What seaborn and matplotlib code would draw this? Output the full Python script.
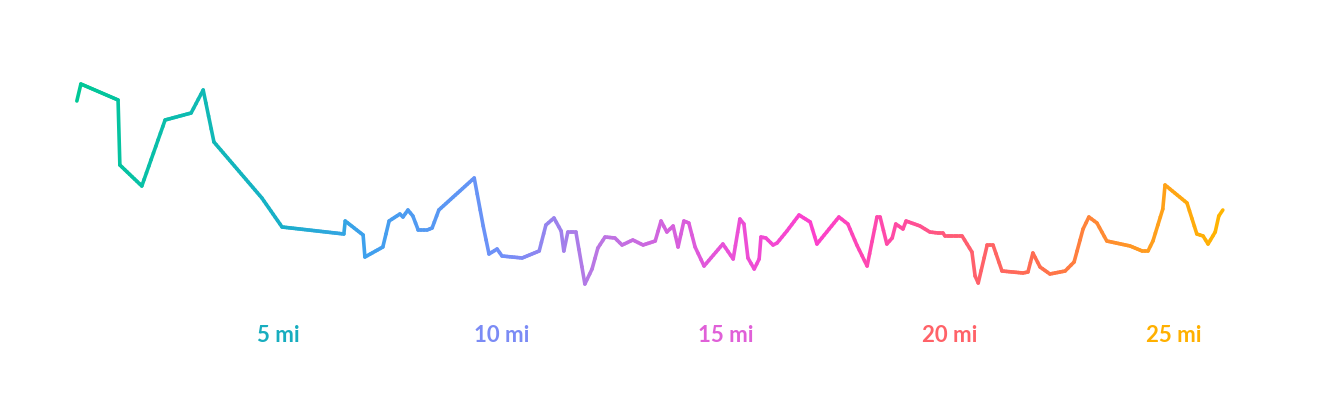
import numpy as np
import matplotlib
matplotlib.use("Agg")
import matplotlib.pyplot as plt
import seaborn as sns
from matplotlib.collections import LineCollection
from matplotlib.colors import LinearSegmentedColormap, to_rgb

# ---- data ----
miles = [0.51, 0.60, 1.43, 1.47, 1.96, 2.48, 3.06, 3.33, 3.57, 4.64,
         5.09, 6.47, 6.50, 6.90, 6.94, 7.34, 7.48, 7.72, 7.79, 7.90,
         8.01, 8.13, 8.33, 8.44, 8.59, 9.38, 9.58, 9.71, 9.89, 10.00,
         10.45, 10.83, 10.98, 11.16, 11.32, 11.38, 11.47, 11.65, 11.85, 12.01,
         12.14, 12.30, 12.52, 12.68, 12.92, 13.15, 13.42, 13.55, 13.68, 13.82,
         13.93, 14.06, 14.17, 14.31, 14.51, 14.93, 15.16, 15.31, 15.40, 15.49,
         15.63, 15.74, 15.78, 15.89, 16.05, 16.14, 16.36, 16.63, 16.88, 17.03,
         17.52, 17.72, 17.92, 18.15, 18.37, 18.44, 18.59, 18.71, 18.79, 18.95,
         19.02, 19.33, 19.55, 19.73, 19.84, 19.89, 20.27, 20.49, 20.56, 20.63,
         20.83, 20.96, 21.16, 21.63, 21.74, 21.85, 22.01, 22.23, 22.57, 22.77,
         22.97, 23.10, 23.28, 23.50, 24.02, 24.29, 24.42, 24.53, 24.75, 24.80,
         25.29, 25.51, 25.65, 25.76, 25.92, 26.00, 26.09]
elevation = [298, 315, 299, 234, 213, 279, 286, 309, 257, 201,
             172, 165, 178, 164, 142, 152, 178, 185, 182, 189,
             183, 169, 169, 171, 189, 221, 173, 145, 150, 143,
             141, 148, 174, 181, 168, 148, 167, 167, 115, 130,
             151, 162, 161, 154, 159, 154, 158, 178, 167, 173,
             152, 178, 176, 152, 133, 155, 140, 180, 175, 141,
             130, 140, 162, 161, 154, 156, 168, 184, 177, 155,
             182, 175, 154, 133, 182, 182, 155, 161, 175, 170,
             178, 173, 167, 166, 166, 163, 163, 147, 123, 116,
             154, 154, 128, 126, 127, 146, 132, 125, 128, 137,
             170, 182, 176, 158, 153, 148, 148, 158, 190, 214,
             196, 165, 163, 155, 167, 183, 189]
tick_miles = [5, 10, 15, 20, 25]
tick_labels = ["5 mi", "10 mi", "15 mi", "20 mi", "25 mi"]
tick_colors = ["#17ADBF", "#7B8BF5", "#E060D8", "#FF6268", "#FFB000"]

grad_pos = [0.5, 5.0, 7.0, 10.0, 12.0, 15.0, 17.0, 19.0, 20.0, 22.0, 24.0, 26.1]
grad_colors = ["#00C896", "#18B0C8", "#3FA0EE", "#7090F8", "#B878E4", "#E852D8",
               "#FC40CC", "#FF4CA0", "#FF5A78", "#FF6E50", "#FF9528", "#FFB500"]

# ---- figure ----
sns.set_theme(style="white")
fig = plt.figure(figsize=(13.24, 4.02), dpi=100)
ax = fig.add_axes([0, 0, 1, 1])

df_x = np.array(miles)
df_y = np.array(elevation)
sns.lineplot(x=df_x, y=df_y, ax=ax, color="#00C896", linewidth=2.4, sort=False)
base = ax.lines[0]
xd, yd = base.get_xdata(), base.get_ydata()
base.remove()

# gradient colouring along the line
span = grad_pos[-1] - grad_pos[0]
cmap = LinearSegmentedColormap.from_list(
    "run", [((p - grad_pos[0]) / span, to_rgb(c)) for p, c in zip(grad_pos, grad_colors)])
segs, cols = [], []
for i in range(len(xd) - 1):
    n = max(1, int(abs(xd[i + 1] - xd[i]) / 0.05))
    for k in range(n):
        t0, t1 = k / n, (k + 1) / n
        p0 = (xd[i] + (xd[i + 1] - xd[i]) * t0, yd[i] + (yd[i + 1] - yd[i]) * t0)
        p1 = (xd[i] + (xd[i + 1] - xd[i]) * t1, yd[i] + (yd[i + 1] - yd[i]) * t1)
        segs.append([p0, p1])
        cols.append(cmap(((p0[0] + p1[0]) / 2 - grad_pos[0]) / span))
lc = LineCollection(segs, colors=cols, linewidths=2.6, capstyle="round", joinstyle="round")
ax.add_collection(lc)

for m, lab, c in zip(tick_miles, tick_labels, tick_colors):
    ax.text(m, 64, lab, color=c, ha="center", va="center", fontsize=16,
            fontweight="bold", family=["Lato", "DejaVu Sans"])

ax.set_xlim(-54 / 44.8, (1324 - 54) / 44.8)
ax.set_ylim(-2, 400)
ax.axis("off")
fig.savefig("out.png", dpi=100, facecolor="white")
